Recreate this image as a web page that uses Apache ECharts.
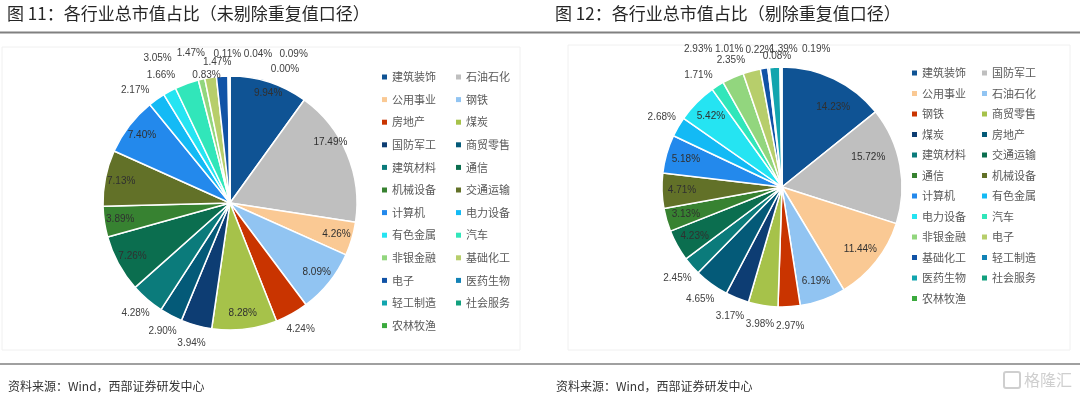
<!DOCTYPE html>
<html>
<head>
<meta charset="utf-8">
<script src="https://cdn.jsdelivr.net/npm/echarts@6/dist/echarts.min.js"></script>
<style>
html,body{margin:0;padding:0;background:#fff;}
#main{width:1080px;height:395px;}
</style>
</head>
<body>
<div id="main"></div>
<script>
// ---------- data ----------
const titleLeft = '图 11：各行业总市值占比（未剔除重复值口径）';
const titleRight = '图 12：各行业总市值占比（剔除重复值口径）';
const sourceText = '资料来源：Wind，西部证券研发中心';

const leftNames = ['建筑装饰','石油石化','公用事业','钢铁','房地产','煤炭','国防军工','商贸零售','建筑材料','通信','机械设备','交通运输','计算机','电力设备','有色金属','汽车','非银金融','基础化工','电子','医药生物','轻工制造','社会服务','农林牧渔'];
const leftValues = [9.94,17.49,4.26,8.09,4.24,8.28,3.94,2.90,4.28,7.26,3.89,7.13,7.40,2.17,1.66,3.05,0.83,1.47,1.47,0.11,0.04,0.09,0.00];

const rightNames = ['建筑装饰','国防军工','公用事业','石油石化','钢铁','商贸零售','煤炭','房地产','建筑材料','交通运输','通信','机械设备','计算机','有色金属','电力设备','汽车','非银金融','电子','基础化工','轻工制造','医药生物','社会服务','农林牧渔'];
const rightValues = [14.23,15.72,11.44,6.19,2.97,3.98,3.17,4.65,2.45,4.23,3.13,4.71,5.18,2.68,5.42,1.71,2.93,2.35,1.01,0.22,1.39,0.08,0.19];

const palette = ['#0F5394','#BFBFBF','#FAC994','#91C4F2','#C93400','#A6C24A','#0D3D73','#045A78','#0B7B7B','#0B6E4F','#378231','#627128','#2389EC','#13BAF5','#25E4F2','#31E6BA','#92D67E','#B7CE6B','#1153A6','#1282B6','#12A5AE','#12A07E','#3BAA3E'];

// ---------- label placement config ----------
const leftInside = [0,1,2,3,5,9,10,11,12];
const rightInside = [0,1,2,3,9,10,11,12,14];
const leftOffsets = {0:[4,-4],1:[-2,-18],13:[-11,6],15:[-23,-8],16:[9,14],17:[-17,-6],18:[-4,4],19:[-1,-4],20:[29,-4],21:[64,-4],22:[55,11]};
const rightOffsets = {0:[8,10],1:[-12,-12],15:[-9,6],16:[-27,-11],17:[-16,8],18:[-32,0],19:[-7,1],20:[10,1],21:[-3,8],22:[35,1]};

const fmt = p => p.value.toFixed(2) + '%';
const labelFont = {fontFamily:'Liberation Sans, Arial, sans-serif', fontSize:10, color:'#404040'};

function mainSeries(names, values, center, r) {
  return {
    type:'pie', center:center, radius:[0, r], startAngle:90, clockwise:true,
    avoidLabelOverlap:false, silent:true, animation:false,
    label:{show:false}, labelLine:{show:false},
    itemStyle:{borderColor:'#fff', borderWidth:1.5},
    data: names.map((n,i)=>({name:n, value:values[i], itemStyle:{color:palette[i]}}))
  };
}
function labelSeries(names, values, center, rLabel, showIdx, offsets, color) {
  return {
    type:'pie', center:center, radius:[0, rLabel*2], startAngle:90, clockwise:true,
    avoidLabelOverlap:false, silent:true, animation:false, z:5,
    emphasis:{disabled:true},
    labelLayout:{hideOverlap:false, moveOverlap:null},
    labelLine:{show:false},
    itemStyle:{color:'rgba(0,0,0,0)', borderWidth:0},
    data: names.map((n,i)=>{
      const show = showIdx.indexOf(i) >= 0;
      const lab = Object.assign({show:show, position:'inside', formatter:fmt, overflow:'none'}, labelFont, {color:color});
      if (offsets && offsets[i]) lab.offset = offsets[i];
      return {name:n, value:values[i], label:lab};
    })
  };
}
function legendCols(names, left1, left2, top, gap) {
  const mk = (idxs, left) => ({
    orient:'vertical', left:left, top:top, itemWidth:5, itemHeight:5, itemGap:gap,
    icon:'rect', selectedMode:false, padding:0,
    textStyle:{fontSize:11, color:'#595959', fontFamily:'Noto Sans CJK SC', lineHeight:14},
    data: idxs.map(i=>({name:names[i], icon:'rect', itemStyle:{color:palette[i], borderWidth:0}}))
  });
  const c1=[], c2=[];
  names.forEach((n,i)=>{ (i%2===0?c1:c2).push(i); });
  return [mk(c1,left1), mk(c2,left2)];
}

const leftC = [230, 203], leftR = 127;
const rightC = [782, 187], rightR = 120;
const allLeft = leftNames.map((n,i)=>i);
const allRight = rightNames.map((n,i)=>i);
const leftOutside = allLeft.filter(i=>leftInside.indexOf(i)<0);
const rightOutside = allRight.filter(i=>rightInside.indexOf(i)<0);

const chart = echarts.init(document.getElementById('main'), null, {renderer:'canvas'});
chart.setOption({
  animation:false,
  title:[
    {text:titleLeft, left:7, top:5, padding:0, textStyle:{fontSize:17, fontWeight:'normal', color:'#262626', fontFamily:'Noto Sans CJK SC'}},
    {text:titleRight, left:555, top:5, padding:0, textStyle:{fontSize:17, fontWeight:'normal', color:'#262626', fontFamily:'Noto Sans CJK SC'}}
  ],
  legend: legendCols(leftNames, 382, 456, 70, 8.6).concat(legendCols(rightNames, 912, 982, 66, 6.5)),
  series:[
    mainSeries(leftNames, leftValues, leftC, leftR),
    mainSeries(rightNames, rightValues, rightC, rightR),
    labelSeries(leftNames, leftValues, leftC, 108, leftInside, leftOffsets, '#303030'),
    labelSeries(leftNames, leftValues, leftC, 142, leftOutside, leftOffsets, '#404040'),
    labelSeries(rightNames, rightValues, rightC, 97, rightInside, rightOffsets, '#303030'),
    labelSeries(rightNames, rightValues, rightC, 136, rightOutside, rightOffsets, '#404040')
  ],
  graphic:[
    {type:'rect', silent:true, z:-10, shape:{x:2, y:47, width:518, height:303}, style:{fill:null, stroke:'#f0f0f0', lineWidth:1}},
    {type:'rect', silent:true, z:-10, shape:{x:568, y:45, width:502, height:305}, style:{fill:null, stroke:'#f0f0f0', lineWidth:1}},
    {type:'line', silent:true, shape:{x1:0, y1:32.5, x2:1080, y2:32.5}, style:{stroke:'#808080', lineWidth:2}},
    {type:'line', silent:true, shape:{x1:0, y1:364, x2:1080, y2:364}, style:{stroke:'#808080', lineWidth:1.5}},
    {type:'text', silent:true, x:8, y:386, style:{text:sourceText, fontSize:12, fill:'#333', fontFamily:'Noto Sans CJK SC', verticalAlign:'middle'}},
    {type:'text', silent:true, x:556, y:386, style:{text:sourceText, fontSize:12, fill:'#333', fontFamily:'Noto Sans CJK SC', verticalAlign:'middle'}},
    {type:'rect', silent:true, shape:{x:1004, y:372, width:16, height:16, r:2}, style:{fill:null, stroke:'#cfcfcf', lineWidth:2}},
    {type:'text', silent:true, x:1024, y:380, style:{text:'格隆汇', fontSize:16, fill:'#cfcfcf', fontFamily:'Noto Sans CJK SC', verticalAlign:'middle'}}
  ]
});
</script>
</body>
</html>
